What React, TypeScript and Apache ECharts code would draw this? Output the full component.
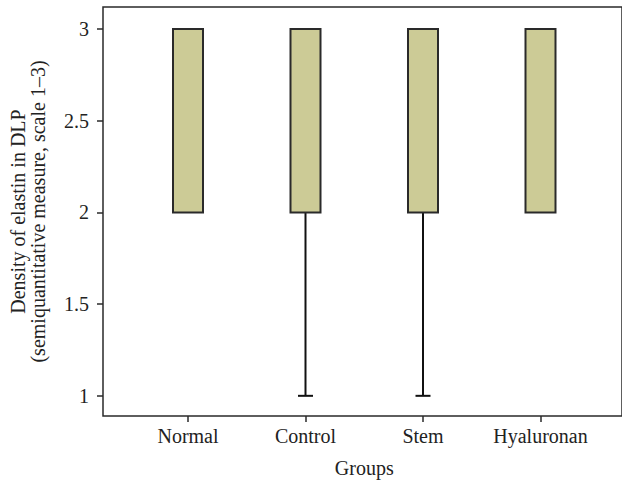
import React, { useEffect, useRef } from "react";
import * as echarts from "echarts";

const categories = ["Normal", "Control", "Stem", "Hyaluronan"];
// [min, Q1, median, Q3, max]
const boxValues = [
  [2, 2, 2, 3, 3],
  [1, 2, 2, 3, 3],
  [1, 2, 2, 3, 3],
  [2, 2, 2, 3, 3],
];
const yTicks = [1, 1.5, 2, 2.5, 3];

const FONT = "Liberation Serif";
const BOX_W = 30;
const CAP_W = 15;

export default function App() {
  const ref = useRef<HTMLDivElement>(null);
  useEffect(() => {
    if (!ref.current) return;
    const chart = echarts.init(ref.current, undefined, { renderer: "svg" });
    const top = 7;
    const bottom = 69;
    const data = boxValues.map((v, i) => [i, ...v]);
    chart.setOption({
      animation: false,
      backgroundColor: "#ffffff",
      textStyle: { fontFamily: FONT },
      grid: [
        {
          left: 102,
          right: -4.5,
          top,
          bottom,
          show: true,
          borderColor: "#2a2a2a",
          borderWidth: 1.5,
          backgroundColor: "transparent",
        },
        { left: 129.25, right: 22.75, top, bottom },
      ],
      xAxis: [
        { type: "value", gridIndex: 0, min: 0, max: 1, show: false },
        {
          type: "category",
          gridIndex: 1,
          data: categories,
          boundaryGap: true,
          axisLine: { show: false },
          axisTick: {
            show: true,
            alignWithLabel: true,
            interval: 0,
            length: 6,
            lineStyle: { color: "#2a2a2a", width: 1.5 },
          },
          axisLabel: {
            color: "#222",
            fontFamily: FONT,
            fontSize: 20,
            margin: 10,
            interval: 0,
            hideOverlap: false,
          },
          name: "Groups",
          nameLocation: "middle",
          nameGap: 42,
          nameTextStyle: { color: "#222", fontFamily: FONT, fontSize: 20 },
          splitLine: { show: false },
        },
      ],
      yAxis: [
        {
          type: "value",
          gridIndex: 0,
          min: 0.89,
          max: 3.12,
          axisLine: { show: false },
          axisTick: {
            show: true,
            length: 6,
            customValues: yTicks,
            lineStyle: { color: "#2a2a2a", width: 1.5 },
          },
          axisLabel: {
            color: "#222",
            fontFamily: FONT,
            fontSize: 20,
            margin: 14,
            customValues: yTicks,
          },
          splitLine: { show: false },
          name: "Density of elastin in DLP\n(semiquantitative measure, scale 1–3)",
          nameLocation: "middle",
          nameRotate: 90,
          nameGap: 55,
          nameTextStyle: { color: "#222", fontFamily: FONT, fontSize: 20, lineHeight: 20 },
        },
        { type: "value", gridIndex: 1, min: 0.89, max: 3.12, show: false },
      ],
      series: [
        {
          type: "custom",
          xAxisIndex: 1,
          yAxisIndex: 1,
          data,
          encode: { x: 0, y: [1, 2, 3, 4, 5] },
          renderItem: (params: any, api: any) => {
            const idx = api.value(0);
            const vmin = api.value(1);
            const q1 = api.value(2);
            const q3 = api.value(4);
            const vmax = api.value(5);
            const pMin = api.coord([idx, vmin]);
            const pQ1 = api.coord([idx, q1]);
            const pQ3 = api.coord([idx, q3]);
            const pMax = api.coord([idx, vmax]);
            const cx = pQ1[0];
            const lineStyle = { stroke: "#111", lineWidth: 2 };
            const children: any[] = [];
            if (vmin < q1) {
              children.push({
                type: "line",
                shape: { x1: cx, y1: pQ1[1], x2: cx, y2: pMin[1] },
                style: lineStyle,
              });
              children.push({
                type: "line",
                shape: { x1: cx - CAP_W / 2, y1: pMin[1], x2: cx + CAP_W / 2, y2: pMin[1] },
                style: lineStyle,
              });
            }
            if (vmax > q3) {
              children.push({
                type: "line",
                shape: { x1: cx, y1: pQ3[1], x2: cx, y2: pMax[1] },
                style: lineStyle,
              });
              children.push({
                type: "line",
                shape: { x1: cx - CAP_W / 2, y1: pMax[1], x2: cx + CAP_W / 2, y2: pMax[1] },
                style: lineStyle,
              });
            }
            children.push({
              type: "rect",
              shape: {
                x: cx - BOX_W / 2,
                y: pQ3[1],
                width: BOX_W,
                height: pQ1[1] - pQ3[1],
              },
              style: { fill: "#cccb96", stroke: "#2a2a2a", lineWidth: 2 },
            });
            return { type: "group", children };
          },
        },
      ],
    });
    return () => chart.dispose();
  }, []);
  return (
    <div
      ref={ref}
      style={{ position: "fixed", left: 0, top: 0, width: 622, height: 485 }}
    />
  );
}
